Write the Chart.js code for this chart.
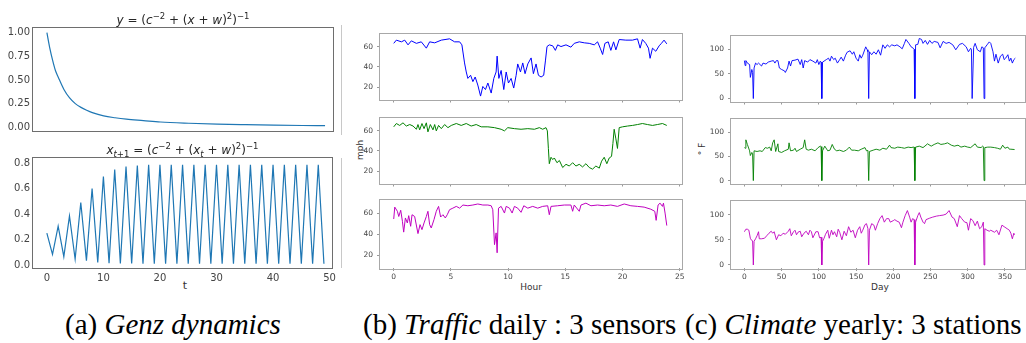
<!DOCTYPE html>
<html>
<head>
<meta charset="utf-8">
<script src="https://cdn.jsdelivr.net/npm/chart.js@4.4.1/dist/chart.umd.min.js"></script>
<style>
  html, body { margin: 0; padding: 0; overflow: hidden; background: #fff; }
  body { position: relative; width: 1026px; height: 343px; }
  canvas { position: absolute; }
  .lbl { position: absolute; font-family: "DejaVu Sans"; color: #333; white-space: nowrap; transform: translate(-50%, -50%); }
  .rot { transform: translate(-50%, -50%) rotate(-90deg); }
  .cap { position: absolute; top: 310px; font-family: "Liberation Serif", "Times New Roman", Times, "DejaVu Serif", serif; font-size: 29px; line-height: 1; color: #000; white-space: nowrap; }
  .cap i { font-family: "Liberation Serif", "Times New Roman", Times, "DejaVu Serif", serif; font-style: italic; }
  .edge { position: absolute; left: 341px; width: 1px; background: #c8c8c8; }
</style>
</head>
<body>
<div class="edge" style="top:25px;height:110px"></div>
<div class="edge" style="top:158px;height:110px"></div>

<div class="lbl" style="left:185px;top:285px;font-size:11px">t</div>
<div class="lbl rot" style="left:360px;top:150px;font-size:9px">mph</div>
<div class="lbl" style="left:531px;top:287px;font-size:9px">Hour</div>
<div class="lbl rot" style="left:702px;top:149px;font-size:9px">° F</div>
<div class="lbl" style="left:880px;top:287px;font-size:9px">Day</div>

<div class="cap" style="left:65px">(a) <i>Genz dynamics</i></div>
<div class="cap" style="left:363px">(b) <i>Traffic</i> daily : 3 sensors</div>
<div class="cap" style="left:685px">(c) <i>Climate</i> yearly: 3 stations</div>

<script>
// ---- (a) Genz ----
const genzCurveX = [0, 0.5, 1, 1.5, 2, 3, 4, 5, 6, 7, 8, 10, 12, 14, 17, 20, 25, 30, 35, 40, 45, 49]
const genzCurveY = [1.0, 0.84, 0.71, 0.6, 0.53, 0.40, 0.31, 0.25, 0.21, 0.18, 0.155, 0.12, 0.10, 0.085, 0.07, 0.055, 0.042, 0.033, 0.027, 0.022, 0.018, 0.016]
const genzMapY = [
  0.25, 0.083, 0.305, 0.065, 0.385, 0.047, 0.49, 0.034, 0.60, 0.02,
  0.695, 0.013, 0.75, 0.012, 0.773, 0.011, 0.78, 0.01, 0.787, 0.01,
  0.787, 0.01, 0.787, 0.01, 0.787, 0.01, 0.787, 0.01, 0.787, 0.01,
  0.787, 0.01, 0.787, 0.01, 0.787, 0.01, 0.787, 0.01, 0.787, 0.01,
  0.787, 0.01, 0.787, 0.01, 0.787, 0.01, 0.787, 0.01, 0.787, 0.01
]
const genzTTicks = [0, 10, 20, 30, 40, 50]
const genzCurveTicks = [0, 0.25, 0.5, 0.75, 1]
const genzMapTicks = [0, 0.2, 0.4, 0.6, 0.8]

// ---- (b) Traffic, speed in mph over one day ----
const hourTicks = [0, 5, 10, 15, 20, 25]
const mphTicks = [20, 40, 60]
const sensor1Hour = [0,0.23,0.67,0.96,1.25,1.54,1.98,2.41,2.85,3.14,3.58,4.16,4.88,5.32,5.76,5.96,6.19,6.34,6.48,6.72,6.92,7.12,7.35,7.59,7.79,8.02,8.23,8.52,8.75,8.95,9.04,9.19,9.39,9.62,9.83,10.03,10.26,10.49,10.70,10.84,11.08,11.28,11.48,11.72,12.01,12.21,12.44,12.65,12.88,13.11,13.26,13.40,13.60,13.90,14.13,14.33,14.62,15.06,15.49,15.78,16.22,16.66,17.09,17.53,17.82,18.05,18.26,18.46,18.75,18.98,19.22,19.42,19.71,20.29,20.87,21.31,21.54,21.74,22.03,22.27,22.41,22.62,22.91,23.20,23.40,23.63,23.87]
const sensor1Mph = [63.5,66.7,65,66.7,62,66,63.5,65,58.7,65,64,66.7,68,65,65,62,44,35,28.6,31.7,25.4,30,22,11,20.6,17.5,24,14,28.6,35,50.8,28.6,36.5,17.5,35,24,28.6,19,31.7,43,35,44,33.3,43,49,33.3,43,31.7,30,31.7,46,60.3,62,61,56.5,62,60.3,62,59.7,63.5,65,64,63.5,62,65,58.7,52.4,63.5,65,56.5,65,57,67.3,66.7,66.7,68,58.7,67.3,63.5,58.7,48.6,58.7,55.6,61,63.5,66.7,63]
const sensor2Hour = [0,0.23,0.52,0.81,1.10,1.40,1.69,1.98,2.12,2.27,2.47,2.65,2.85,2.99,3.20,3.43,3.58,3.72,3.92,4.16,4.45,4.74,5.03,5.47,5.90,6.34,6.77,7.21,7.65,8.23,8.81,9.39,9.68,9.97,10.55,11.13,11.72,12.30,12.73,13.02,13.31,13.43,13.52,13.60,13.75,13.90,14.04,14.27,14.48,14.77,15.06,15.35,15.64,15.93,16.22,16.51,16.80,17.09,17.38,17.67,17.97,18.17,18.40,18.63,18.84,19.04,19.16,19.27,19.42,19.56,19.71,20.00,20.44,20.87,21.31,21.74,22.18,22.62,23.05,23.49,23.87]
const sensor2Mph = [64,67.3,65.4,68,64.8,66.3,64.8,61.6,66.3,61,67.3,62.2,68,59,66.3,61,66.3,60,65.4,62.2,66.3,63.2,65.4,67.3,65.4,67.3,64.8,66.3,64,64,63.2,61.6,60,63.2,62.2,61.6,62.2,61.6,63.2,61.6,63.2,60,42.5,27.3,33.7,31.4,33,28.3,30.5,23.5,26.7,25,28.3,25,26.7,24.1,27.3,23.5,21.9,25,22.9,29.8,33.7,27.3,33,34.6,47.3,61.6,52,42.5,63.2,64,64.8,65.4,66.3,67.3,66.3,65.4,66.3,67.3,65.4]
const sensor3Hour = [0,0.09,0.32,0.44,0.61,0.76,0.87,1.02,1.19,1.31,1.48,1.60,1.83,2.12,2.30,2.47,2.65,2.85,2.99,3.14,3.28,3.52,3.72,3.92,4.10,4.30,4.51,4.68,4.88,5.17,5.47,5.76,6.05,6.48,6.92,7.35,7.79,8.23,8.52,8.66,8.81,8.95,9.04,9.16,9.39,9.68,9.83,10.12,10.35,10.55,10.84,11.13,11.37,11.72,12.15,12.59,13.02,13.46,13.60,13.75,14.33,14.91,15.49,15.64,15.78,16.22,16.37,16.80,17.24,17.82,18.40,18.98,19.56,20.15,20.73,21.31,21.89,22.47,22.82,22.94,23.11,23.28,23.49,23.58,23.72,23.87]
const sensor3Mph = [54.6,66,62,57,63,52.4,42,55.6,50.8,57.8,47.6,58.7,57,40.6,49.2,44.4,50.8,57,62,49.2,46,54,62,66.7,56.5,58.7,55.6,58.7,63.5,65,66.7,65,68,67.3,68,69,68,68,67.3,63.5,30,41.3,22.2,65,66.7,60.3,66.7,65,60.3,66.7,65,61,67.3,65,66.7,65,66.7,67.3,58.7,66.7,67.3,68,68,62,68,62,68,69.8,67.3,68,67.3,68,66.7,69,67.3,66.7,66,64,62,53.3,68,69.8,66.7,69.8,60.3,48.3]

// ---- (c) Climate, temperature in F over one year ----
const dayTicks = [0, 50, 100, 150, 200, 250, 300, 350]
const tempTicks = [0, 50, 100]
const station1Day = [0,1,2,4,7,8,10,11,12,13,15,17,19,21,23,25,29,32,36,39,41,43,45,47,50,54,55,58,60,62,64,68,72,75,77,79,81,85,88,92,96,98,100,102,103,104,105,107,110,113,115,117,120,122,125,128,130,133,136,138,142,145,147,150,153,155,157,159,163,165,166,167,168,171,174,177,180,183,186,189,192,195,198,202,205,209,212,215,217,221,224,227,228,229,230,233,235,238,240,243,246,249,252,255,260,263,267,271,275,280,284,289,293,298,301,304,305,306,307,308,310,313,317,319,321,322,323,326,329,331,334,336,338,341,344,347,349,351,354,356,358,360,362,364]
const station1Temp = [77,67,77,72,69,43,59,53,0,62,72,69,72,69,66,72,70,74,76,77,72,77,77,62,59,56,53,62,76,66,77,78,80,69,79,62,77,74,79,76,72,79,69,76,74,0,74,76,79,82,76,86,79,82,72,79,84,76,88,94,97,90,95,82,76,89,82,88,105,99,95,0,95,89,95,90,99,88,109,102,109,105,109,107,109,105,101,112,120,112,105,102,100,0,109,110,122,120,112,118,110,118,112,116,114,103,116,112,114,109,99,110,112,105,95,102,100,0,0,104,112,99,95,105,103,0,103,109,115,112,95,76,90,72,86,90,79,82,89,76,82,72,79,82]
const station2Day = [0,1,2,4,7,8,10,11,12,13,17,21,24,28,31,34,36,38,40,42,45,46,50,54,59,60,62,66,68,70,75,79,81,83,86,90,95,99,102,103,104,105,108,112,115,118,121,124,128,133,137,141,144,148,153,157,162,164,166,167,168,173,177,182,186,191,195,197,202,206,211,215,220,224,227,228,229,230,235,240,244,246,251,255,260,264,269,273,278,282,287,291,296,300,304,310,313,318,320,321,322,323,327,331,336,340,344,347,350,354,356,358,363]
const station2Temp = [68,66.7,84,74.5,61.4,51.6,58,55,0,61.4,60,61.4,60,68,66.7,69,61.4,77.8,84,60,75.8,60,58,61.4,64.7,77.8,61.4,62.7,66.7,60,64.7,68,84,64.7,62.7,64.7,61.4,68,71,70,0,61.4,71,61.4,62.7,74.5,64.7,61.4,62.7,60,62.7,69,62.7,62.7,61.4,64.7,68,61.4,62,0,60,62.7,64.7,62.7,66.7,64.7,73,68,66.7,69,68,66.7,69,68,69,69,0,69,71,68,73,75.8,71,74.5,77.8,74.5,75.8,77.8,73,71,73,69,71,69,68,75.8,69,68,71,70,0,68,69,69,68,66.7,64.7,73,66.7,69,64.7,64.7,64]
const station3Day = [0,2,4,6,8,9,11,12,13,15,17,19,20,23,27,30,33,36,38,40,43,46,49,52,55,59,61,63,66,68,70,72,75,77,80,83,86,88,90,92,96,99,101,103,104,105,107,109,112,114,117,119,121,124,126,128,131,134,137,140,143,146,149,152,155,157,159,162,164,166,167,168,171,174,176,179,182,185,188,191,194,196,200,202,205,208,211,213,216,219,222,224,226,228,229,230,233,235,237,240,242,244,249,253,258,262,267,271,275,279,282,286,289,292,296,299,301,304,307,310,313,316,319,321,322,323,326,329,331,336,339,342,346,349,353,356,358,360,362,363]
const station3Temp = [66,71,71,69,53,50,48,0,47,52,58,66,52,52,53,58,63,67,63,66,50,60,58,63,61,67,72,58,66,69,60,65,67,56,63,67,60,69,66,54,66,66,54,55,0,47,53,61,69,53,69,60,66,56,71,65,50,67,58,76,65,69,54,69,76,63,69,80,82,72,0,69,82,79,69,82,92,98,85,92,92,85,88,90,87,85,74,85,98,108,95,85,92,90,0,85,98,104,95,85,82,90,93,95,97,98,99,101,108,95,92,76,98,92,85,84,69,92,88,78,87,72,76,85,0,72,69,67,69,65,69,60,79,76,72,69,63,52,63,60]

const pairs = (xs, ys) => xs.slice(0, Math.min(xs.length, ys.length)).map((x, i) => ({ x, y: ys[i] }))

// box round the plot area, like the matplotlib axes frame
const frame = {
  id: "frame",
  afterDatasetsDraw(chart, args, opts) {
    const { left, top, right, bottom } = chart.chartArea
    const ctx = chart.ctx
    ctx.save()
    ctx.strokeStyle = opts.color
    ctx.lineWidth = 1
    ctx.strokeRect(Math.round(left) - 0.5, Math.round(top) - 0.5, Math.round(right - left) + 1, Math.round(bottom - top) + 1)
    ctx.restore()
  }
}

// mathtext-like title: runs of [text, style]
const mathTitle = {
  id: "mathTitle",
  afterDraw(chart, args, opts) {
    if (!opts.runs) return
    const ctx = chart.ctx
    const fontOf = st => {
      const small = st.includes("sup") || st.includes("sub")
      const size = small ? 8.5 : 12
      return (st.includes("i") ? "italic " : "") + size + "px 'DejaVu Sans'"
    }
    let total = 0
    opts.runs.forEach(([t, st]) => { ctx.font = fontOf(st); total += ctx.measureText(t).width })
    const { left, right } = chart.chartArea
    let x = (left + right) / 2 - total / 2
    ctx.save()
    ctx.fillStyle = "#262626"
    ctx.textBaseline = "alphabetic"
    opts.runs.forEach(([t, st]) => {
      ctx.font = fontOf(st)
      let y = opts.y
      if (st.includes("sup")) y -= 5
      if (st.includes("sub")) y += 3
      ctx.fillText(t, x, y)
      x += ctx.measureText(t).width
    })
    ctx.restore()
  }
}

function axis(min, max, ticks, o) {
  return {
    type: "linear",
    min: min,
    max: max,
    afterBuildTicks: s => { s.ticks = ticks.map(v => ({ value: v })) },
    ticks: {
      display: o.labels,
      autoSkip: false,
      maxRotation: 0,
      padding: o.pad,
      color: "#444",
      font: { family: "DejaVu Sans", size: o.font },
      callback: o.fmt || (v => String(v))
    },
    grid: {
      display: true,
      drawOnChartArea: false,
      drawTicks: o.tick > 0,
      tickLength: o.tick || 0,
      tickColor: "#999",
      color: "rgba(0,0,0,0)"
    },
    border: { display: false }
  }
}

// box = [left, top, right, bottom] of the plot area; pad = [l, t, r, b] room round it
function plot(box, pad, datasets, xAxis, yAxis, extra) {
  const cv = document.createElement("canvas")
  const w = box[2] - box[0] + pad[0] + pad[2]
  const h = box[3] - box[1] + pad[1] + pad[3]
  cv.width = w
  cv.height = h
  cv.style.width = w + "px"
  cv.style.height = h + "px"
  cv.style.left = (box[0] - pad[0]) + "px"
  cv.style.top = (box[1] - pad[1]) + "px"
  document.body.appendChild(cv)
  xAxis.afterFit = s => { s.height = pad[3] }
  yAxis.afterFit = s => { s.width = pad[0] }
  return new Chart(cv, {
    type: "line",
    data: { datasets: datasets },
    options: {
      responsive: false,
      animation: false,
      devicePixelRatio: 1,
      layout: { padding: { left: 0, top: pad[1], right: pad[2], bottom: 0 } },
      elements: { point: { radius: 0 } },
      scales: { x: xAxis, y: yAxis },
      plugins: Object.assign({ legend: { display: false }, tooltip: { enabled: false }, frame: { color: extra.frame } }, extra.plugins || {})
    },
    plugins: [frame, mathTitle]
  })
}

const line = (data, color, width, smooth) => ({
  data: data,
  borderColor: color,
  borderWidth: width,
  fill: false,
  tension: 0,
  cubicInterpolationMode: smooth ? "monotone" : "default"
})

// (a) top: the map y = f(x)
plot([33, 28, 333, 137], [33, 28, 7, 3],
  [line(pairs(genzCurveX, genzCurveY), "#1f77b4", 1.2, true)],
  axis(-2.45, 50.4, genzTTicks, { labels: false, tick: 0, size: 3 }),
  axis(-0.04, 1.05, genzCurveTicks, { labels: true, tick: 0, pad: 3, font: 10, fmt: v => v.toFixed(2) }),
  { frame: "#6e6e6e", plugins: { mathTitle: { y: 24, runs: [
    ["y", "i"], [" = (", ""], ["c", "i"], ["\u22122", "sup"], [" + (", ""], ["x", "i"], [" + ", ""], ["w", "i"], [")", ""], ["2", "sup"], [")", ""], ["\u22121", "sup"]
  ] } } })

// (a) bottom: iterating the map
plot([33, 158, 333, 268], [33, 18, 7, 22],
  [line(pairs(genzMapY.map((v, i) => i), genzMapY), "#1f77b4", 1.2, false)],
  axis(-2.45, 50.4, genzTTicks, { labels: true, tick: 0, pad: 4, font: 10 }),
  axis(-0.024, 0.84, genzMapTicks, { labels: true, tick: 0, pad: 3, font: 10, fmt: v => v.toFixed(1) }),
  { frame: "#6e6e6e", plugins: { mathTitle: { y: 14, runs: [
    ["x", "i"], ["t", "i sub"], ["+1", "sub"], [" = (", ""], ["c", "i"], ["\u22122", "sup"], [" + (", ""], ["x", "i"], ["t", "i sub"], [" + ", ""], ["w", "i"], [")", ""], ["2", "sup"], [")", ""], ["\u22121", "sup"]
  ] } } })

// (b) traffic sensors
const trafficRows = [
  { box: [380, 33, 682, 102], data: pairs(sensor1Hour, sensor1Mph), color: "#0000ff", labels: false },
  { box: [380, 117, 682, 186], data: pairs(sensor2Hour, sensor2Mph), color: "#008000", labels: false },
  { box: [380, 199, 682, 268], data: pairs(sensor3Hour, sensor3Mph), color: "#bf00bf", labels: true }
]
trafficRows.forEach(r => {
  plot(r.box, [40, 8, 8, r.labels ? 18 : 6],
    [line(r.data, r.color, 1, false)],
    axis(-1.2, 25.2, hourTicks, { labels: r.labels, tick: 3, pad: 2, font: 7.5 }),
    axis(7.6, 73.3, mphTicks, { labels: true, tick: 3, pad: 4, font: 7.5 }),
    { frame: "#a8a8a8" })
})

// (c) climate stations
const climateRows = [
  { box: [731, 35, 1025, 104], data: pairs(station1Day, station1Temp), color: "#0000ff", labels: false },
  { box: [731, 118, 1025, 186], data: pairs(station2Day, station2Temp), color: "#008000", labels: false },
  { box: [731, 200, 1025, 268], data: pairs(station3Day, station3Temp), color: "#bf00bf", labels: true }
]
climateRows.forEach(r => {
  plot(r.box, [41, 8, 10, r.labels ? 18 : 6],
    [line(r.data, r.color, 0.9, false)],
    axis(-18, 377, dayTicks, { labels: r.labels, tick: 3, pad: 2, font: 7.5 }),
    axis(-6, 128, tempTicks, { labels: true, tick: 3, pad: 4, font: 7.5 }),
    { frame: "#a8a8a8" })
})
</script>
</body>
</html>
